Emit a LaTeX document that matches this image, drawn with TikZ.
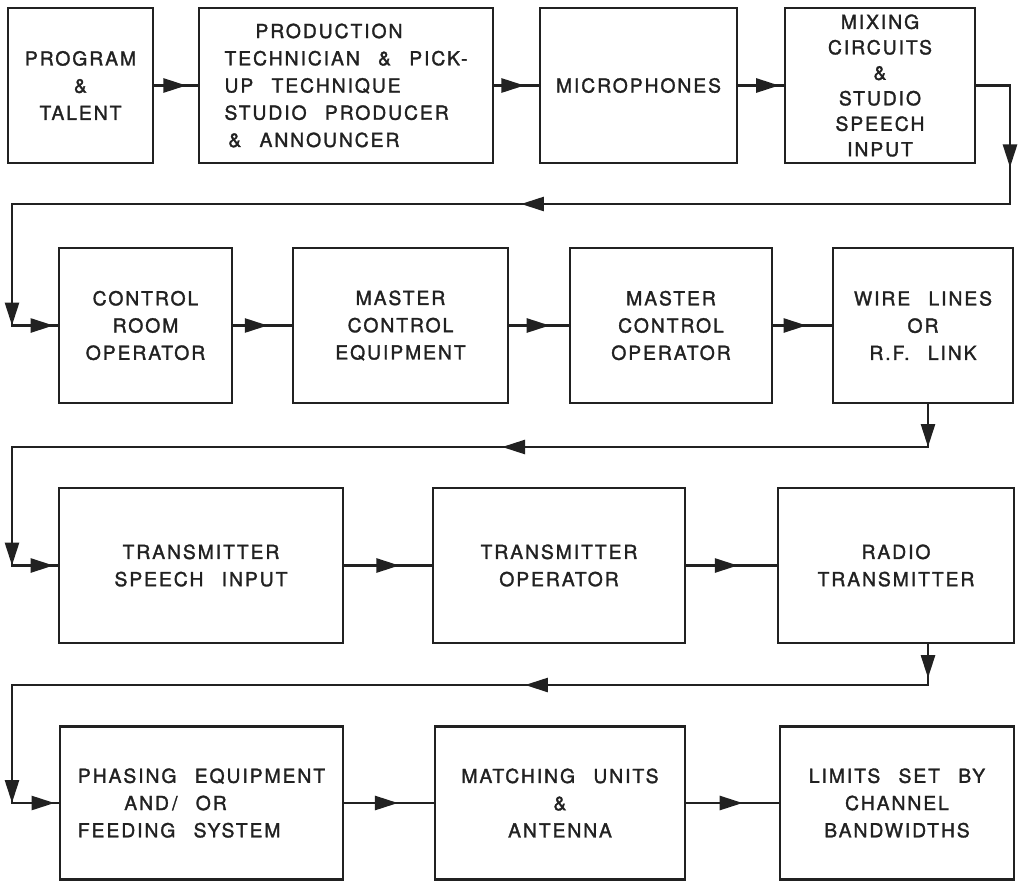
\documentclass[tikz,border=0pt]{standalone}
\usepackage{fontspec}
\setmainfont{TeX Gyre Heros}[LetterSpace=10,WordSpace=2.5,
    BoldFont=TeX Gyre Heros,BoldFeatures={FakeBold=1.6}]
\usetikzlibrary{arrows.meta,decorations.markings}
\definecolor{ink}{gray}{0.13}

\begin{document}
\begin{tikzpicture}[x=0.02cm,y=-0.02cm,
    blk/.style={draw=ink,text=ink,line width=1.5pt,align=center,inner sep=0pt,
        minimum height=3.1cm,font=\fontsize{11}{15.5}\selectfont\bfseries},
    flow/.style={draw=ink,line width=1.5pt,line cap=rect,postaction={decorate},
        decoration={markings,mark=at position #1 with
            {\arrow{Triangle[length=0.46cm,width=0.28cm]}}}},
    flow/.default=0.65]
    \useasboundingbox (0,0) rectangle (1018,883);

    % row 1: studio
    \node[blk,minimum width=2.9cm] (prog) at (80.5,85.5) {PROGRAM\\\&\\TALENT};
    \node[blk,minimum width=5.88cm,align=left] (prod) at (346,85.5)
        {\hspace*{1.6em}PRODUCTION\\TECHNICIAN \& PICK-\\UP TECHNIQUE\\STUDIO PRODUCER\\\hspace*{0.2em}\& ANNOUNCER};
    \node[blk,minimum width=3.94cm] (mics) at (638.5,85.5) {MICROPHONES};
    \node[blk,minimum width=3.8cm,font=\fontsize{11}{14.5}\selectfont\bfseries] (mix) at (880,85.5)
        {MIXING\\CIRCUITS\\\&\\STUDIO\\SPEECH\\INPUT};

    % row 2: control room
    \node[blk,minimum width=3.46cm] (croom) at (145.5,325.5) {CONTROL\\ROOM\\OPERATOR};
    \node[blk,minimum width=4.3cm] (mceq) at (400.5,325.5) {MASTER\\CONTROL\\EQUIPMENT};
    \node[blk,minimum width=4.04cm] (mcop) at (671,325.5) {MASTER\\CONTROL\\OPERATOR};
    \node[blk,minimum width=3.6cm] (wire) at (923,325.5) {WIRE LINES\\OR\\R.F. LINK};

    % row 3: transmitter
    \node[blk,minimum width=5.68cm] (txin) at (201,565.5) {TRANSMITTER\\SPEECH INPUT};
    \node[blk,minimum width=5.04cm] (txop) at (559,565.5) {TRANSMITTER\\OPERATOR};
    \node[blk,minimum width=4.72cm] (radio) at (896,565.5) {RADIO\\TRANSMITTER};

    % row 4: antenna
    \node[blk,minimum width=5.66cm,minimum height=3.06cm,align=left] (phase) at (201.5,803)
        {PHASING EQUIPMENT\\\hspace*{2.4em}AND\,/ OR\\FEEDING SYSTEM};
    \node[blk,minimum width=5cm,minimum height=3.06cm] (match) at (560,803) {MATCHING UNITS\\\&\\ANTENNA};
    \node[blk,minimum width=4.68cm,minimum height=3.06cm] (limits) at (897,803)
        {LIMITS SET BY\\CHANNEL\\BANDWIDTHS};

    % arrows along the rows
    \draw[flow=0.74] (prog.east) -- (prod.west);
    \draw[flow=0.68] (prod.east) -- (mics.west);
    \draw[flow=0.9] (mics.east) -- (mix.west);
    \draw[flow=0.59] (croom.east) -- (mceq.west);
    \draw[flow=0.68] (mceq.east) -- (mcop.west);
    \draw[flow=0.57] (mcop.east) -- (wire.west);
    \draw[flow=0.63] (txin.east) -- (txop.west);
    \draw[flow=0.57] (txop.east) -- (radio.west);
    \draw[flow=0.6] (phase.east) -- (match.west);
    \draw[flow=0.61] (match.east) -- (limits.west);

    % return lines between rows
    \coordinate (r1) at (1010,204);
    \coordinate (l1) at (12,204);
    \draw[flow=0.76] (mix.east) -| (r1);
    \draw[flow=0.49] (r1) -- (l1);
    \draw[flow=1] (l1) -- (l1 |- croom.west);
    \draw[flow=0.91] (l1 |- croom.west) -- (croom.west);

    \coordinate (r2) at (928,447);
    \coordinate (l2) at (12,447);
    \draw[flow=1] (wire.south -| r2) -- (r2);
    \draw[flow=0.465] (r2) -- (l2);
    \draw[flow=1] (l2) -- (l2 |- txin.west);
    \draw[flow=0.91] (l2 |- txin.west) -- (txin.west);

    \coordinate (r3) at (928,685);
    \coordinate (l3) at (12,685);
    \draw[flow=0.83] (radio.south -| r3) -- (r3);
    \draw[flow=0.44] (r3) -- (l3);
    \draw[flow=1] (l3) -- (l3 |- phase.west);
    \draw[flow=0.91] (l3 |- phase.west) -- (phase.west);
\end{tikzpicture}
\end{document}
